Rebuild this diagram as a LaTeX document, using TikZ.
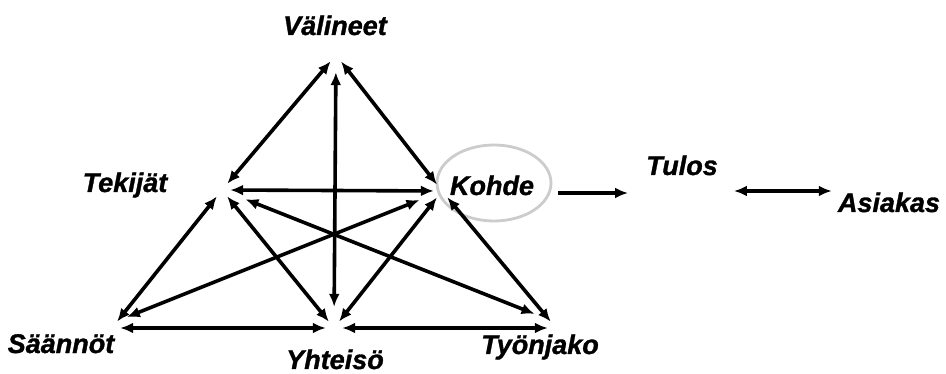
\documentclass[tikz,border=0pt]{standalone}
\usepackage{fontspec}
\setmainfont{Liberation Sans}[BoldItalicFeatures={FakeBold=1.2}]
\usetikzlibrary{arrows.meta, positioning, calc, shapes.geometric}

\begin{document}
\begin{tikzpicture}[
        x=1pt, y=-1pt,
        term/.style={font=\fontsize{27}{30}\selectfont\bfseries\itshape, inner sep=0pt, anchor=base},
        hub/.style={circle, minimum size=16pt, inner sep=0pt},
        ring/.style={draw=gray!40, line width=2.8pt, ellipse, minimum width=114pt, minimum height=76pt, inner sep=0pt},
        link/.style={line width=3.6pt, {Latex[length=13pt,width=11pt]}-{Latex[length=13pt,width=11pt]}},
        >={Latex[length=13pt,width=11pt]},
    ]
        \useasboundingbox (0,0) rectangle (946,374);

        % labels
        \node[term] (valineet) at (335,35)  {Välineet};
        \node[term] (tekijat)  at (125,192) {Tekijät};
        \node[term] (kohde)    at (492,195) {Kohde};
        \node[term] (tulos)    at (682,175) {Tulos};
        \node[term] (asiakas)  at (889,212) {Asiakas};
        \node[term] (saannot)  at (61,353)  {Säännöt};
        \node[term] (yhteiso)  at (335,369) {Yhteisö};
        \node[term] (tyonjako) at (540,354) {Työnjako};
        \node[ring] (kohdering) at (494,183) {};

        % corners of the triangles
        \node[hub] (vali) at (336,55)  {};
        \node[hub] (teki) at (222,190) {};
        \node[hub] (kohd) at (442,191) {};
        \node[hub] (saan) at (112,328) {};
        \node[hub] (yhte) at (334,328) {};
        \node[hub] (tyon) at (556,328) {};

        \draw[link] (teki) -- (vali);
        \draw[link] (kohd) -- (vali);
        \draw[link, shorten <=13pt, shorten >=9pt] (yhte) -- (vali);
        \draw[link] (teki) -- (kohd);
        \draw[link] (teki) -- (saan);
        \draw[link] (teki) -- (yhte);
        \draw[link, shorten <=17pt, shorten >=22pt] (teki) -- ($(tyon)+(-1,-6)$);
        \draw[link, shorten <=16pt, shorten >=16pt] (kohd) -- ($(saan)+(0,-5)$);
        \draw[link] (kohd) -- (yhte);
        \draw[link] (kohd) -- (tyon);
        \draw[link] (saan) -- (yhte);
        \draw[link] (yhte) -- (tyon);

        \draw[->, line width=3.6pt] ($(kohdering.east)+(6,10)$) -- ($(tulos.base west)+(-18,18)$);
        \draw[link] ($(tulos.base east)+(16,16)$) -- ($(asiakas.base west)+(-6,-21)$);
    \end{tikzpicture}
\end{document}
